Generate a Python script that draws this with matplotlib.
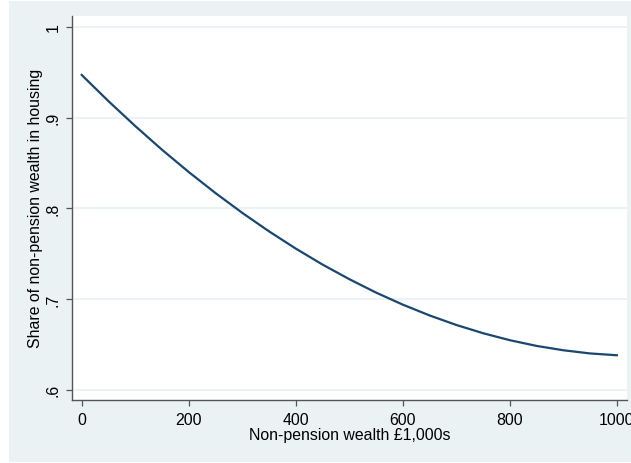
import numpy as np
import matplotlib
matplotlib.use("Agg")
import matplotlib.pyplot as plt
from matplotlib.patches import Rectangle

# values
wealth = [0, 50, 100, 150, 200, 250, 300, 350, 400, 450, 500,
          550, 600, 650, 700, 750, 800, 850, 900, 950, 1000]
share = [0.9470, 0.9181, 0.8907, 0.8646, 0.8400, 0.8168, 0.7950, 0.7746, 0.7556, 0.7380, 0.7219,
         0.7071, 0.6938, 0.6819, 0.6714, 0.6623, 0.6546, 0.6483, 0.6435, 0.6400, 0.6380]

xticks = [0, 200, 400, 600, 800, 1000]
yticks = [0.6, 0.7, 0.8, 0.9, 1.0]
ytick_labels = [".6", ".7", ".8", ".9", "1"]

bg = "#EAF2F3"
navy = "#1A476F"

plt.rcParams['font.family'] = ['Liberation Sans', 'DejaVu Sans']

fig = plt.figure(figsize=(6.31, 4.64), dpi=100)
fig.patch.set_facecolor("white")
# stata style outer region, slightly inset from the left/top
fig.add_artist(Rectangle((9/631, 1/464), 1.0, 461/464, transform=fig.transFigure,
                         facecolor=bg, edgecolor="none", zorder=-5))

ax = fig.add_axes([71.7/631, 63.3/464, (627-71.7)/631, (400.7-17)/464])
ax.set_facecolor("white")

ax.plot(wealth, share, color=navy, lw=1.6, zorder=3)

ax.set_xlim(-18.7, 1019)
ax.set_ylim(0.589, 1.012)
ax.set_xticks(xticks)
ax.set_yticks(yticks)
ax.set_yticklabels(ytick_labels, rotation=90, va="center")
ax.grid(axis="y", color=bg, lw=1.3)
ax.set_axisbelow(True)

for s in ["top", "right"]:
    ax.spines[s].set_visible(False)
for s in ["left", "bottom"]:
    ax.spines[s].set_color("#555555")
    ax.spines[s].set_linewidth(1.0)

ax.tick_params(axis="both", direction="out", length=4.5, width=0.9, color="#555555",
               labelsize=11.4, labelcolor="black")
ax.tick_params(axis="x", pad=4)
ax.tick_params(axis="y", pad=3.5)

ax.set_xlabel("Non-pension wealth £1,000s", fontsize=11.4, labelpad=0)
ax.set_ylabel("Share of non-pension wealth in housing", fontsize=11.4, labelpad=2)

fig.savefig("out.png", dpi=100, facecolor=fig.get_facecolor())
